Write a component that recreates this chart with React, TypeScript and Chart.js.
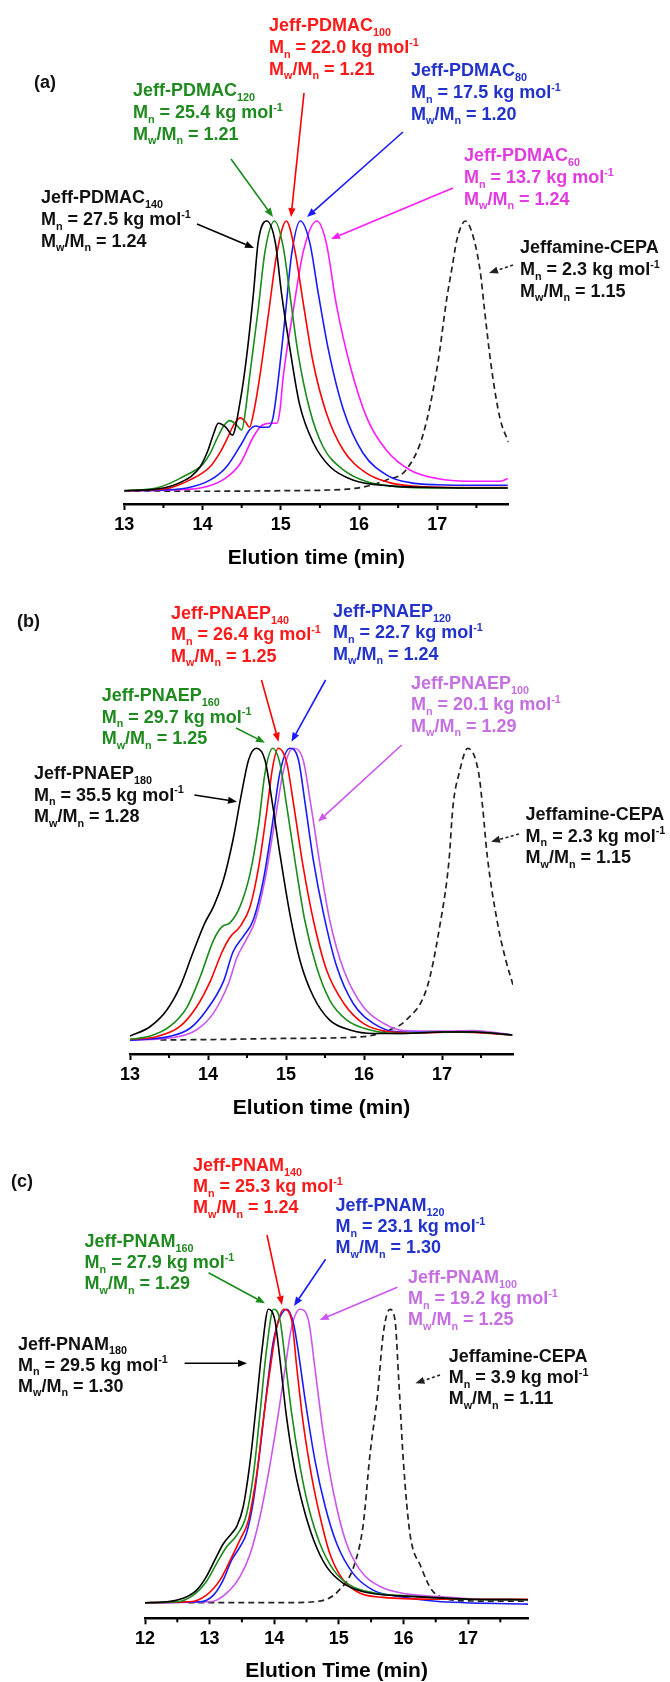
import React, { useEffect, useRef } from 'react';
import { Chart, registerables } from 'chart.js';
Chart.register(...registerables);

type Pt = [number, number];

// ---------------- Panel (a): Jeff-PDMAC ----------------
const A_TICKS = [13, 14, 15, 16, 17];
const A_NAMES = ['Jeff-PDMAC_{140}', 'Jeff-PDMAC_{120}', 'Jeff-PDMAC_{100}', 'Jeff-PDMAC_{80}', 'Jeff-PDMAC_{60}', 'Jeffamine-CEPA'];
const A_MN = ['27.5', '25.4', '22.0', '17.5', '13.7', '2.3'];
const A_PDI = ['1.24', '1.21', '1.21', '1.20', '1.24', '1.15'];
const A_PDMAC140: Pt[] = [[13.0,0],[13.3,0.003],[13.5,0.01],[13.63,0.02],[13.75,0.035],[13.84,0.05],[13.97,0.089],[14.07,0.15],[14.14,0.21],[14.2,0.25],[14.3,0.235],[14.38,0.206],[14.48,0.33],[14.56,0.49],[14.65,0.73],[14.71,0.92],[14.82,1.0],[14.93,0.92],[15.01,0.73],[15.12,0.52],[15.24,0.32],[15.42,0.175],[15.63,0.089],[15.92,0.04],[16.39,0.018],[17.0,0.012],[17.5,0.01],[17.9,0.01]];
const A_PDMAC120: Pt[] = [[13.0,0],[13.41,0.01],[13.6,0.03],[13.75,0.052],[13.9,0.075],[14.01,0.1],[14.1,0.14],[14.18,0.19],[14.27,0.24],[14.35,0.26],[14.43,0.245],[14.5,0.225],[14.55,0.3],[14.6,0.42],[14.71,0.67],[14.8,0.89],[14.92,1.0],[15.03,0.905],[15.12,0.72],[15.22,0.51],[15.37,0.3],[15.54,0.163],[15.8,0.077],[16.1,0.033],[16.48,0.015],[17.0,0.01],[17.9,0.01]];
const A_PDMAC100: Pt[] = [[13.0,0],[13.3,0.003],[13.58,0.01],[13.84,0.04],[14.1,0.09],[14.22,0.14],[14.31,0.19],[14.4,0.245],[14.48,0.27],[14.55,0.255],[14.6,0.235],[14.66,0.3],[14.73,0.42],[14.84,0.65],[14.95,0.88],[15.07,1.0],[15.18,0.89],[15.29,0.69],[15.41,0.48],[15.58,0.29],[15.8,0.15],[16.1,0.064],[16.39,0.03],[16.65,0.018],[17.2,0.012],[17.9,0.012]];
const A_PDMAC80: Pt[] = [[13.0,0],[13.5,0.003],[13.8,0.01],[14.1,0.04],[14.31,0.09],[14.5,0.175],[14.6,0.225],[14.68,0.24],[14.76,0.235],[14.84,0.235],[14.9,0.27],[14.95,0.37],[15.05,0.63],[15.14,0.88],[15.25,1.0],[15.37,0.92],[15.48,0.73],[15.61,0.52],[15.8,0.3],[16.05,0.14],[16.39,0.052],[16.65,0.03],[17.0,0.022],[17.5,0.02],[17.9,0.02]];
const A_PDMAC60: Pt[] = [[13.0,0],[13.6,0.003],[13.97,0.01],[14.26,0.04],[14.48,0.1],[14.65,0.2],[14.75,0.24],[14.86,0.25],[14.95,0.25],[14.99,0.3],[15.03,0.42],[15.16,0.67],[15.29,0.89],[15.46,1.0],[15.58,0.92],[15.71,0.69],[15.88,0.47],[16.1,0.27],[16.35,0.15],[16.65,0.077],[17.0,0.045],[17.4,0.035],[17.8,0.035],[17.9,0.045]];
const A_CEPA: Pt[] = [[13.0,0],[14.0,-0.002],[15.0,0.0],[15.8,0.005],[16.08,0.015],[16.35,0.04],[16.6,0.077],[16.82,0.21],[17.0,0.46],[17.12,0.71],[17.19,0.83],[17.25,0.93],[17.36,1.0],[17.47,0.93],[17.55,0.81],[17.6,0.68],[17.69,0.46],[17.8,0.27],[17.91,0.18]];

// ---------------- Panel (b): Jeff-PNAEP ----------------
const B_TICKS = [13, 14, 15, 16, 17];
const B_NAMES = ['Jeff-PNAEP_{180}', 'Jeff-PNAEP_{160}', 'Jeff-PNAEP_{140}', 'Jeff-PNAEP_{120}', 'Jeff-PNAEP_{100}', 'Jeffamine-CEPA'];
const B_MN = ['35.5', '29.7', '26.4', '22.7', '20.1', '2.3'];
const B_PDI = ['1.28', '1.25', '1.25', '1.24', '1.29', '1.15'];
const B_PNAEP180: Pt[] = [[13.0,0.011],[13.26,0.044],[13.47,0.1],[13.64,0.18],[13.81,0.3],[13.96,0.4],[14.07,0.456],[14.2,0.55],[14.32,0.685],[14.43,0.845],[14.52,0.96],[14.62,1.0],[14.73,0.96],[14.82,0.82],[14.92,0.64],[15.05,0.43],[15.18,0.27],[15.35,0.147],[15.56,0.066],[15.82,0.032],[16.12,0.02],[16.5,0.02],[17.0,0.025],[17.4,0.025],[17.9,0.015]];
const B_PNAEP160: Pt[] = [[13.0,0.0],[13.26,0.011],[13.51,0.044],[13.73,0.11],[13.9,0.215],[14.07,0.34],[14.18,0.387],[14.28,0.4],[14.41,0.456],[14.54,0.57],[14.65,0.74],[14.73,0.914],[14.83,1.0],[14.92,0.95],[15.01,0.8],[15.12,0.605],[15.24,0.41],[15.39,0.25],[15.56,0.135],[15.78,0.066],[16.08,0.032],[16.42,0.02],[17.0,0.025],[17.4,0.025],[17.9,0.015]];
const B_PNAEP140: Pt[] = [[13.0,0.0],[13.34,0.009],[13.64,0.044],[13.85,0.11],[14.03,0.2],[14.18,0.3],[14.28,0.35],[14.41,0.387],[14.54,0.456],[14.65,0.593],[14.75,0.777],[14.83,0.937],[14.9,1.0],[15.01,0.95],[15.09,0.82],[15.22,0.593],[15.35,0.41],[15.52,0.238],[15.74,0.124],[15.99,0.055],[16.33,0.026],[16.7,0.022],[17.2,0.025],[17.9,0.015]];
const B_PNAEP120: Pt[] = [[13.0,-0.003],[13.51,0.01],[13.77,0.038],[13.98,0.1],[14.2,0.2],[14.32,0.3],[14.45,0.353],[14.58,0.41],[14.71,0.548],[14.82,0.73],[14.92,0.914],[15.05,1.0],[15.16,0.96],[15.24,0.82],[15.35,0.616],[15.48,0.433],[15.65,0.25],[15.86,0.124],[16.12,0.055],[16.42,0.026],[16.8,0.024],[17.3,0.026],[17.9,0.015]];
const B_PNAEP100: Pt[] = [[13.0,-0.003],[13.56,0.006],[13.85,0.032],[14.07,0.09],[14.26,0.19],[14.37,0.28],[14.5,0.347],[14.6,0.404],[14.73,0.548],[14.86,0.754],[14.97,0.926],[15.09,1.0],[15.22,0.96],[15.31,0.82],[15.44,0.593],[15.56,0.41],[15.74,0.238],[15.99,0.112],[16.25,0.055],[16.5,0.03],[17.0,0.028],[17.4,0.03],[17.9,0.015]];
const B_CEPA: Pt[] = [[13.39,-0.002],[14.0,-0.001],[15.0,0.003],[15.99,0.009],[16.3,0.03],[16.54,0.066],[16.81,0.18],[16.97,0.387],[17.09,0.616],[17.14,0.8],[17.22,0.915],[17.33,1.0],[17.47,0.915],[17.52,0.8],[17.58,0.63],[17.72,0.387],[17.82,0.27],[17.91,0.187]];

// ---------------- Panel (c): Jeff-PNAM ----------------
const C_TICKS = [12, 13, 14, 15, 16, 17];
const C_NAMES = ['Jeff-PNAM_{180}', 'Jeff-PNAM_{160}', 'Jeff-PNAM_{140}', 'Jeff-PNAM_{120}', 'Jeff-PNAM_{100}', 'Jeffamine-CEPA'];
const C_MN = ['29.5', '27.9', '25.3', '23.1', '19.2', '3.9'];
const C_PDI = ['1.30', '1.29', '1.24', '1.30', '1.25', '1.11'];
const C_PNAM180: Pt[] = [[12.0,0.0],[12.34,0.003],[12.59,0.015],[12.8,0.043],[12.95,0.089],[13.08,0.145],[13.21,0.2],[13.34,0.236],[13.42,0.26],[13.52,0.327],[13.63,0.486],[13.73,0.69],[13.81,0.86],[13.91,1.0],[14.01,0.963],[14.09,0.827],[14.19,0.634],[14.32,0.452],[14.45,0.327],[14.61,0.214],[14.81,0.123],[15.07,0.066],[15.38,0.037],[15.74,0.026],[16.26,0.02],[17.0,0.012],[17.93,0.01]];
const C_PNAM160: Pt[] = [[12.0,0.0],[12.49,0.003],[12.75,0.026],[12.95,0.072],[13.11,0.134],[13.26,0.19],[13.42,0.23],[13.57,0.3],[13.68,0.44],[13.78,0.645],[13.88,0.86],[13.99,1.0],[14.09,0.963],[14.17,0.827],[14.27,0.645],[14.4,0.464],[14.53,0.327],[14.71,0.2],[14.92,0.111],[15.17,0.06],[15.53,0.034],[16.05,0.023],[17.0,0.012],[17.93,0.01]];
const C_PNAM140: Pt[] = [[12.0,0.0],[12.7,0.003],[12.95,0.026],[13.16,0.077],[13.32,0.145],[13.47,0.214],[13.6,0.28],[13.73,0.44],[13.83,0.62],[13.94,0.8],[14.04,0.94],[14.15,1.0],[14.27,0.963],[14.35,0.8],[14.45,0.61],[14.58,0.43],[14.71,0.293],[14.86,0.168],[15.07,0.077],[15.33,0.032],[15.69,0.018],[16.5,0.012],[17.93,0.012]];
const C_PNAM120: Pt[] = [[12.0,0.0],[12.85,0.003],[13.06,0.026],[13.21,0.077],[13.34,0.145],[13.47,0.19],[13.57,0.236],[13.68,0.35],[13.78,0.52],[13.88,0.713],[13.99,0.895],[14.2,1.0],[14.3,0.95],[14.37,0.86],[14.48,0.69],[14.63,0.486],[14.79,0.327],[14.97,0.2],[15.22,0.1],[15.53,0.043],[15.95,0.02],[16.5,0.005],[17.93,-0.005]];
const C_PNAM100: Pt[] = [[12.0,0.0],[13.01,0.003],[13.26,0.032],[13.47,0.089],[13.63,0.168],[13.78,0.293],[13.91,0.44],[14.04,0.61],[14.17,0.8],[14.27,0.94],[14.4,1.0],[14.53,0.963],[14.63,0.8],[14.76,0.577],[14.92,0.373],[15.1,0.214],[15.33,0.111],[15.64,0.055],[16.05,0.03],[16.6,0.02],[17.2,0.012],[17.93,0.01]];
const C_CEPA: Pt[] = [[12.67,0.0],[13.5,0.0],[14.2,0.0],[14.65,0.004],[14.98,0.037],[15.25,0.135],[15.38,0.27],[15.48,0.5],[15.6,0.71],[15.69,0.92],[15.79,1.0],[15.87,0.963],[15.93,0.75],[16.0,0.48],[16.1,0.237],[16.27,0.123],[16.44,0.043],[16.63,0.016],[17.0,0.006],[17.93,0.005]];

// ---------------- styles ----------------
const FONT = '"Liberation Sans", Arial, Helvetica, sans-serif';
const LINE_COLORS_A = ['#000000', '#1a8c1a', '#ff0000', '#1a1aff', '#ff1aff', '#222222'];
const TEXT_COLORS_A = ['#111111', '#1f8a1f', '#ff1a1a', '#2233cc', '#e03ce0', '#111111'];
const LINE_COLORS_BC = ['#000000', '#1a8c1a', '#ff0000', '#1a1aff', '#cc55ee', '#222222'];
const TEXT_COLORS_BC = ['#111111', '#1f8a1f', '#ff1a1a', '#2233cc', '#c66fe2', '#111111'];

type Ann = { x: number; y: number; arrow: [number, number, number, number] };

type PanelCfg = {
  top: number; height: number; xMin: number; xMax: number;
  left: number; right: number; axisY: number; zeroY: number; oneY: number; titleOffset: number;
  title: string; ticks: number[]; series: Pt[][]; names: string[]; mn: string[]; pdi: string[];
  lineColors: string[]; textColors: string[]; ann: Ann[]; letter: { text: string; x: number; y: number };
  lineGap: number;
};

const PANELS: PanelCfg[] = [
  {
    top: 0, height: 580, xMin: 13, xMax: 17.91, left: 124.3, right: 508.5, axisY: 504, zeroY: 490.7, oneY: 221, titleOffset: 54,
    title: 'Elution time (min)', ticks: A_TICKS,
    series: [A_PDMAC140, A_PDMAC120, A_PDMAC100, A_PDMAC80, A_PDMAC60, A_CEPA],
    names: A_NAMES, mn: A_MN, pdi: A_PDI, lineColors: LINE_COLORS_A, textColors: TEXT_COLORS_A, lineGap: 21.6,
    ann: [
      { x: 41, y: 197, arrow: [197, 224, 254, 248] },
      { x: 133, y: 90, arrow: [231, 159, 273, 217] },
      { x: 269, y: 25, arrow: [304, 93, 291, 217] },
      { x: 411, y: 70, arrow: [403, 132, 307, 217] },
      { x: 464, y: 155, arrow: [453, 188, 331, 239] },
      { x: 520, y: 247, arrow: [513, 265, 489, 273] },
    ],
    letter: { text: '(a)', x: 34, y: 83 },
  },
  {
    top: 580, height: 550, xMin: 13, xMax: 17.91, left: 130, right: 513, axisY: 1054, zeroY: 1039.3, oneY: 748.3, titleOffset: 54,
    title: 'Elution time (min)', ticks: B_TICKS,
    series: [B_PNAEP180, B_PNAEP160, B_PNAEP140, B_PNAEP120, B_PNAEP100, B_CEPA],
    names: B_NAMES, mn: B_MN, pdi: B_PDI, lineColors: LINE_COLORS_BC, textColors: TEXT_COLORS_BC, lineGap: 21.3,
    ann: [
      { x: 34, y: 773, arrow: [194.4, 795, 237, 801.7] },
      { x: 101.7, y: 695, arrow: [236, 728, 265, 742.7] },
      { x: 171, y: 612.7, arrow: [261.5, 680, 278.6, 741.7] },
      { x: 333, y: 610.7, arrow: [325.6, 680, 291.5, 741.7] },
      { x: 411, y: 682.7, arrow: [401.7, 745, 318, 821.7] },
      { x: 525.6, y: 814, arrow: [519, 834, 491, 841.7] },
    ],
    letter: { text: '(b)', x: 17, y: 621.7 },
  },
  {
    top: 1130, height: 553, xMin: 12, xMax: 17.93, left: 145, right: 528.1, axisY: 1618.3, zeroY: 1602.7, oneY: 1309.3, titleOffset: 53.4,
    title: 'Elution Time (min)', ticks: C_TICKS,
    series: [C_PNAM180, C_PNAM160, C_PNAM140, C_PNAM120, C_PNAM100, C_CEPA],
    names: C_NAMES, mn: C_MN, pdi: C_PDI, lineColors: LINE_COLORS_BC, textColors: TEXT_COLORS_BC, lineGap: 21,
    ann: [
      { x: 18, y: 1343.3, arrow: [184.6, 1363.3, 247, 1363.3] },
      { x: 84.6, y: 1240.7, arrow: [208.5, 1272.7, 265, 1303.3] },
      { x: 193, y: 1165, arrow: [267, 1235, 282, 1305] },
      { x: 335.5, y: 1205, arrow: [325.6, 1259.3, 294, 1306] },
      { x: 408, y: 1276.7, arrow: [397.4, 1287.3, 319.7, 1320] },
      { x: 448.7, y: 1356, arrow: [440, 1375, 415.4, 1383.3] },
    ],
    letter: { text: '(c)', x: 11, y: 1181.7 },
  },
];

const ANN_SIZE = 18;
const Y_MAX = 1.12;

function parseRich(s: string) {
  const segs: { t: string; k: number }[] = [];
  const re = /([_^])\{([^}]*)\}/g;
  let last = 0;
  let m: RegExpExecArray | null;
  while ((m = re.exec(s))) {
    if (m.index > last) segs.push({ t: s.slice(last, m.index), k: 0 });
    segs.push({ t: m[2], k: m[1] === '_' ? 1 : 2 });
    last = re.lastIndex;
  }
  if (last < s.length) segs.push({ t: s.slice(last), k: 0 });
  return segs;
}

function drawRich(ctx: CanvasRenderingContext2D, text: string, x: number, y: number, size: number, color: string) {
  const segs = parseRich(text);
  let cx = x;
  const base = y + size * 0.36;
  ctx.fillStyle = color;
  ctx.textAlign = 'left';
  ctx.textBaseline = 'alphabetic';
  for (const s of segs) {
    const fs = s.k ? size * 0.6 : size;
    ctx.font = `bold ${fs}px ${FONT}`;
    const dy = s.k === 1 ? size * 0.25 : s.k === 2 ? -size * 0.42 : 0;
    ctx.fillText(s.t, cx, base + dy);
    cx += ctx.measureText(s.t).width;
  }
}

function drawArrow(ctx: CanvasRenderingContext2D, x1: number, y1: number, x2: number, y2: number, color: string, dashed: boolean) {
  const ang = Math.atan2(y2 - y1, x2 - x1);
  const L = 9, W = 3.6;
  const bx = x2 - L * Math.cos(ang), by = y2 - L * Math.sin(ang);
  ctx.save();
  ctx.strokeStyle = color;
  ctx.lineWidth = 1.6;
  ctx.setLineDash(dashed ? [3, 2.5] : []);
  ctx.beginPath();
  ctx.moveTo(x1, y1);
  ctx.lineTo(bx, by);
  ctx.stroke();
  ctx.setLineDash([]);
  ctx.fillStyle = color;
  ctx.beginPath();
  ctx.moveTo(x2, y2);
  ctx.lineTo(bx + W * Math.sin(ang), by - W * Math.cos(ang));
  ctx.lineTo(bx - W * Math.sin(ang), by + W * Math.cos(ang));
  ctx.closePath();
  ctx.fill();
  ctx.restore();
}

function Panel({ cfg }: { cfg: PanelCfg }) {
  const ref = useRef<HTMLCanvasElement | null>(null);
  useEffect(() => {
    const canvas = ref.current;
    if (!canvas) return;
    const unit = cfg.zeroY - cfg.oneY;
    const axisLocal = cfg.axisY - cfg.top;
    const zeroLocal = cfg.zeroY - cfg.top;
    const yMin = -(cfg.axisY - cfg.zeroY) / unit;
    const scaleH = cfg.titleOffset + 10.5;
    const padTop = zeroLocal - Y_MAX * unit;
    const padBottom = cfg.height - axisLocal - scaleH;

    const datasets = cfg.series.map((pts, i) => {
      const dashed = i === cfg.series.length - 1;
      return {
        label: cfg.names[i],
        data: pts.map(([x, y]) => ({ x, y })),
        borderColor: cfg.lineColors[i],
        borderWidth: dashed ? 1.7 : 1.6,
        borderDash: dashed ? [6, 4] : [],
        pointRadius: 0,
        fill: false,
        cubicInterpolationMode: 'monotone' as const,
        order: dashed ? 10 : i,
      };
    });

    const annPlugin = {
      id: 'annotations',
      afterDraw(chart: any) {
        const ctx: CanvasRenderingContext2D = chart.ctx;
        const xs = chart.scales.x;
        const bottom = chart.chartArea.bottom;
        ctx.save();
        // minor ticks
        ctx.strokeStyle = '#000';
        ctx.lineWidth = 2;
        for (let v = cfg.ticks[0] + 0.5; v < cfg.xMax; v += 1) {
          const px = xs.getPixelForValue(v);
          ctx.beginPath();
          ctx.moveTo(px, bottom);
          ctx.lineTo(px, bottom + 4);
          ctx.stroke();
        }
        // panel letter
        ctx.fillStyle = '#111';
        ctx.font = `bold 18px ${FONT}`;
        ctx.textAlign = 'left';
        ctx.textBaseline = 'middle';
        ctx.fillText(cfg.letter.text, cfg.letter.x, cfg.letter.y - cfg.top);
        // labels and arrows
        cfg.ann.forEach((a, i) => {
          const col = cfg.textColors[i];
          const lines = [cfg.names[i], `M_{n} = ${cfg.mn[i]} kg mol^{-1}`, `M_{w}/M_{n} = ${cfg.pdi[i]}`];
          lines.forEach((ln, j) => drawRich(ctx, ln, a.x, a.y - cfg.top + j * cfg.lineGap, ANN_SIZE, col));
          const [x1, y1, x2, y2] = a.arrow;
          drawArrow(ctx, x1, y1 - cfg.top, x2, y2 - cfg.top, cfg.lineColors[i], i === cfg.ann.length - 1);
        });
        ctx.restore();
      },
    };

    const chart = new Chart(canvas, {
      type: 'line',
      data: { datasets },
      options: {
        animation: false,
        responsive: false,
        devicePixelRatio: 1,
        events: [],
        layout: { padding: { left: cfg.left, right: 670 - cfg.right, top: padTop, bottom: padBottom } },
        plugins: { legend: { display: false }, tooltip: { enabled: false }, title: { display: false } },
        scales: {
          x: {
            type: 'linear',
            min: cfg.xMin,
            max: cfg.xMax,
            afterBuildTicks: (s: any) => { s.ticks = cfg.ticks.map((v) => ({ value: v })); },
            afterFit: (s: any) => { s.height = scaleH; },
            ticks: { color: '#000', font: { family: FONT, size: 18, weight: 'bold' }, padding: 4, maxRotation: 0, autoSkip: false },
            grid: { display: true, drawOnChartArea: false, drawTicks: true, tickLength: 6, tickColor: '#000', tickWidth: 2 },
            border: { display: true, color: '#000', width: 2.5 },
            title: { display: true, text: cfg.title, color: '#000', font: { family: FONT, size: 21, weight: 'bold', lineHeight: 1 }, padding: 0 },
          },
          y: { type: 'linear', display: false, min: yMin, max: Y_MAX },
        },
      },
      plugins: [annPlugin],
    } as any);
    return () => chart.destroy();
  }, [cfg]);
  return (
    <canvas
      ref={ref}
      width={670}
      height={cfg.height}
      style={{ position: 'absolute', left: 0, top: cfg.top, width: 670, height: cfg.height, display: 'block' }}
    />
  );
}

export default function App() {
  return (
    <div style={{ position: 'absolute', left: 0, top: 0, width: 670, height: 1682, overflow: 'hidden', background: '#fff' }}>
      {PANELS.map((p, i) => (
        <Panel key={i} cfg={p} />
      ))}
    </div>
  );
}
